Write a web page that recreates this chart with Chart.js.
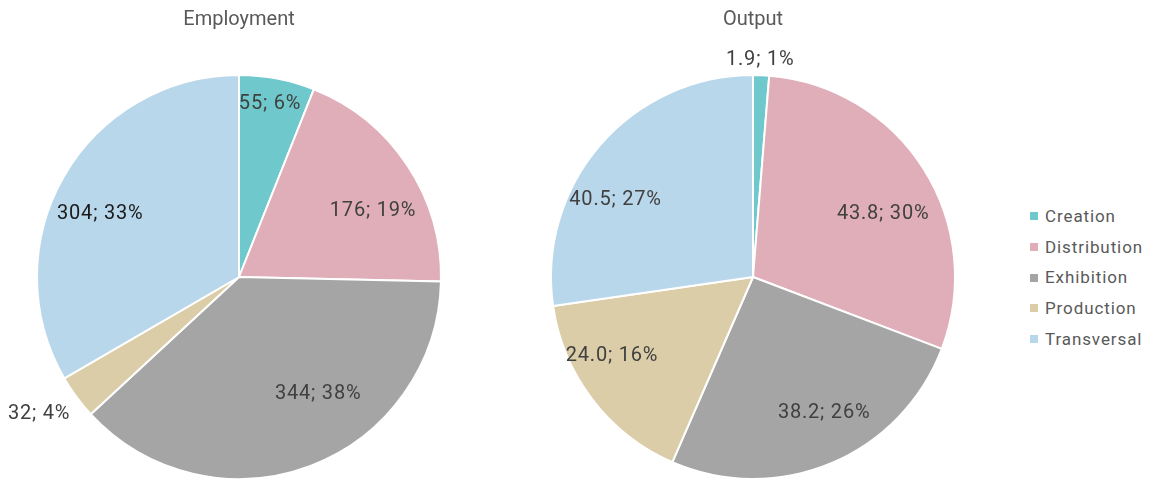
<!DOCTYPE html>
<html><head><meta charset="utf-8">
<script src="https://cdn.jsdelivr.net/npm/chart.js@4/dist/chart.umd.min.js"></script>
<style>
html,body{margin:0;padding:0;background:#fff;width:1149px;height:480px;overflow:hidden;font-family:Roboto,sans-serif;}
.wrap{position:absolute;top:0;width:480px;height:480px;}
#legend{position:absolute;left:1030px;top:201px;color:#595959;font-size:17px;letter-spacing:0.9px;}
#legend div{height:30.7px;line-height:30.7px;display:flex;align-items:center;}
#legend span.box{display:inline-block;width:8px;height:8px;margin-right:7px;}
</style></head>
<body>
<div class="wrap" style="left:0"><canvas id="c1" width="480" height="480"></canvas></div>
<div class="wrap" style="left:514px"><canvas id="c2" width="480" height="480"></canvas></div>
<div id="legend"></div>
<script>
const categories = ['Creation','Distribution','Exhibition','Production','Transversal'];
const employment = [55, 176, 344, 32, 304];
const output = [1.9, 43.8, 38.2, 24.0, 40.5];
const colors = ['#6EC8CC','#E0AEB8','#A5A5A5','#DCCDA9','#B9D7EA'];

// label placement (angle nudge in degrees, radius as fraction of pie radius)
const empLabelPlace = [[-0.7,0.87],[7.2,0.74],[-13.3,0.70],[2,1.20],[-5.4,0.755]];
const outLabelPlace = [[-0.4,1.075],[6.4,0.716],[-4.8,0.76],[8.1,0.80],[-11.6,0.78]];
const empLabelColors = ['#404040','#404040','#404040','#404040','#1a1a1a'];
const outLabelColors = ['#404040','#404040','#404040','#404040','#404040'];

Chart.defaults.font.family = 'Roboto, sans-serif';
Chart.defaults.animation = false;

const labelPlugin = {
  id: 'sliceLabels',
  afterDatasetsDraw(chart, args, opts) {
    const ctx = chart.ctx;
    const meta = chart.getDatasetMeta(0);
    const data = chart.data.datasets[0].data;
    const total = data.reduce((a,b)=>a+b,0);
    ctx.save();
    ctx.font = '20px Roboto, sans-serif';
    try { ctx.letterSpacing = '0.8px'; } catch(e) {}
    ctx.textAlign = 'center';
    ctx.textBaseline = 'middle';
    meta.data.forEach((arc, i) => {
      const p = arc.getProps(['x','y','startAngle','endAngle','outerRadius']);
      const place = opts.place[i];
      const a = (p.startAngle + p.endAngle)/2 + place[0]*Math.PI/180;
      const r = p.outerRadius * place[1];
      const x = p.x + Math.cos(a)*r;
      const y = p.y + Math.sin(a)*r;
      const v = data[i];
      const txt = opts.fmt(v) + '; ' + Math.round(v/total*100) + '%';
      ctx.fillStyle = opts.colors[i];
      ctx.fillText(txt, x, y);
    });
    ctx.restore();
  }
};

function makePie(id, title, values, place, lblColors, fmt) {
  return new Chart(document.getElementById(id), {
    type: 'pie',
    data: { labels: categories, datasets: [{ data: values, backgroundColor: colors, borderColor: '#ffffff', borderWidth: 2 }] },
    options: {
      responsive: false,
      layout: { padding: { left: 36, right: 38, top: 0, bottom: 0 } },
      plugins: {
        legend: { display: false },
        tooltip: { enabled: false },
        title: { display: true, text: title, color: '#595959', font: { size: 20, weight: 'normal' }, padding: { top: 8, bottom: 42 } },
        sliceLabels: { place: place, colors: lblColors, fmt: fmt }
      }
    },
    plugins: [labelPlugin]
  });
}

const ch1 = makePie('c1', 'Employment', employment, empLabelPlace, empLabelColors, v => String(Math.round(v)));
const ch2 = makePie('c2', 'Output', output, outLabelPlace, outLabelColors, v => v.toFixed(1));

// legend built from chart's own legend items
const items = ch2.options.plugins.legend.labels.generateLabels(ch2);
const lg = document.getElementById('legend');
items.forEach(it => {
  const d = document.createElement('div');
  const b = document.createElement('span');
  b.className = 'box';
  b.style.background = it.fillStyle;
  d.appendChild(b);
  d.appendChild(document.createTextNode(it.text));
  lg.appendChild(d);
});
</script>
</body></html>
